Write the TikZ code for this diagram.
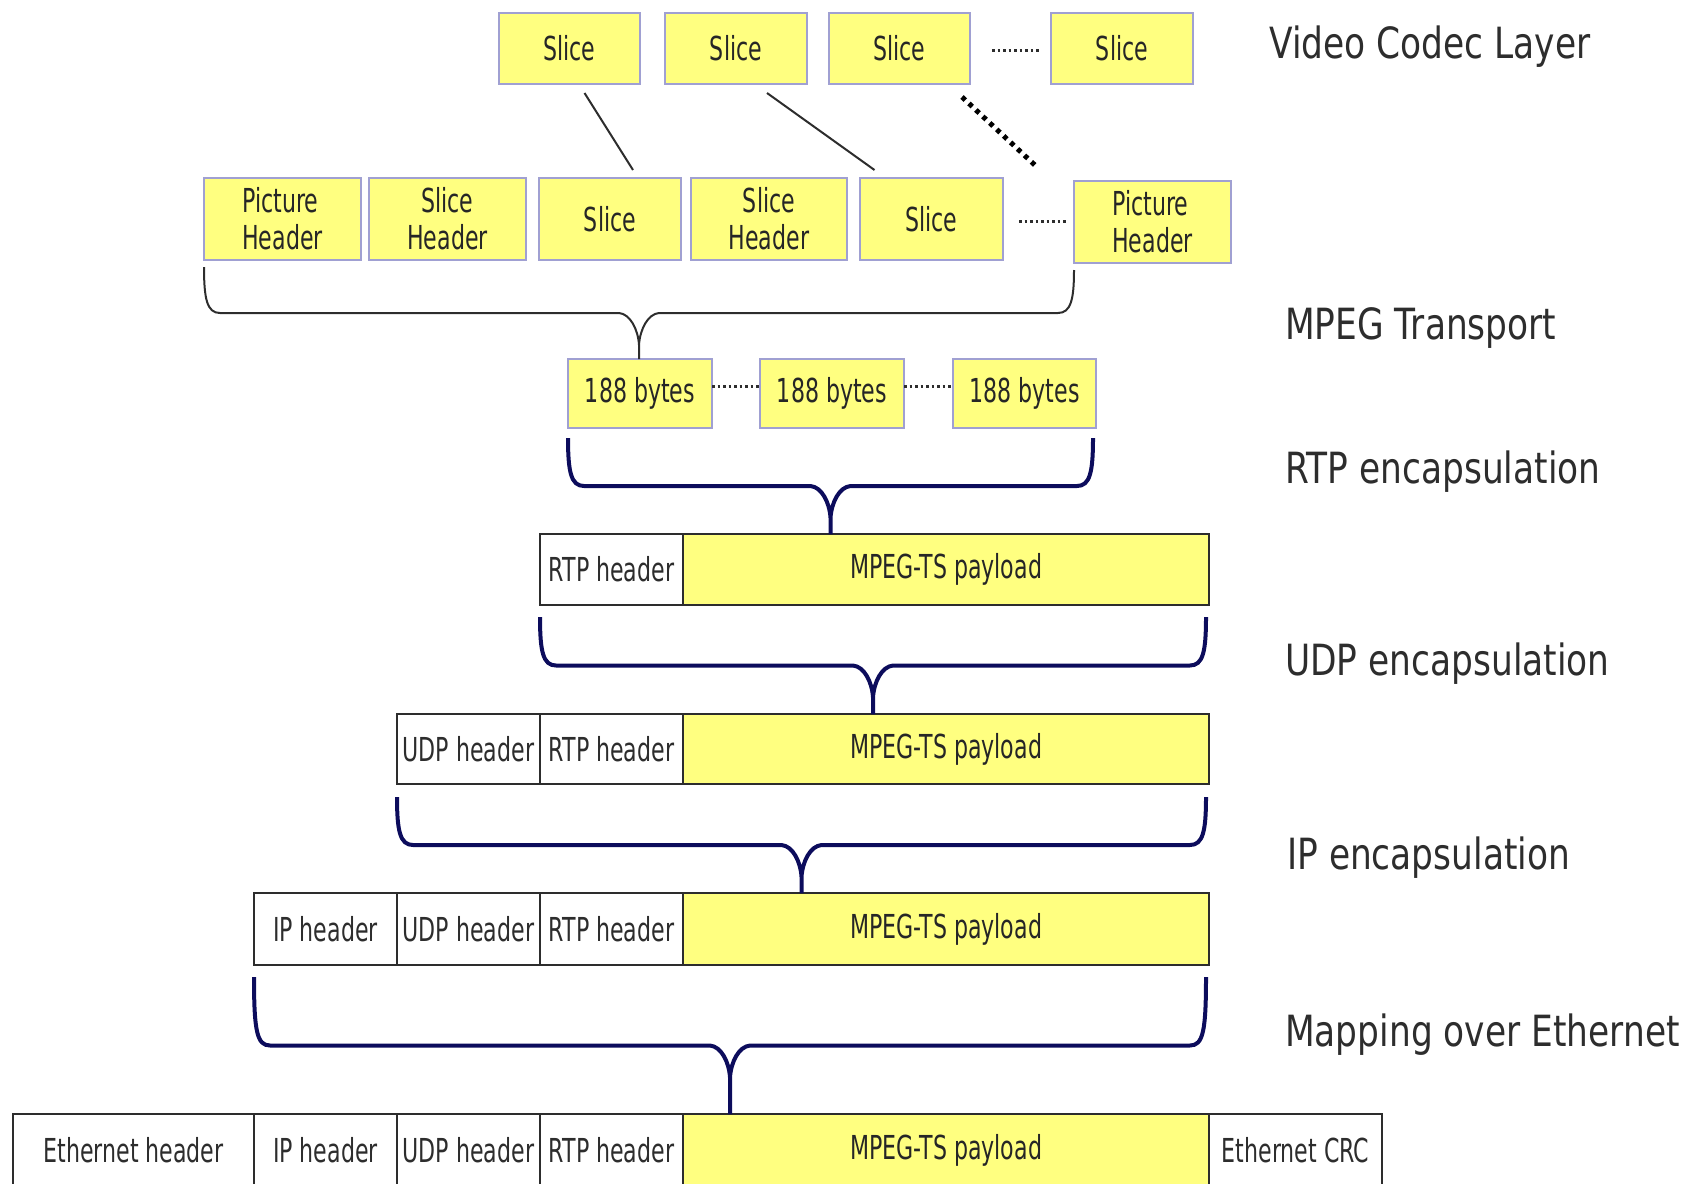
\documentclass[tikz,border=0pt]{standalone}
\usepackage{fontspec}
\newfontfamily\boxfont[FakeStretch=0.67]{DejaVu Sans}
\newfontfamily\layerfont[FakeStretch=0.8]{DejaVu Sans}
\usepackage{tikz}
\usetikzlibrary{positioning,calc}
\definecolor{slicefill}{RGB}{255,255,128}
\definecolor{sliceline}{RGB}{160,160,210}
\definecolor{bracenavy}{RGB}{12,12,92}
\definecolor{textgray}{RGB}{45,45,45}
\newcommand{\encbrace}[4][]{%
  \path (#2) coordinate (bl) (#3) coordinate (br)
        ($(bl)!.5!(br)$) coordinate (bm)
        (bm |- #4.north) coordinate (bt)
        ($(bl)!.5!(bt)$) coordinate (bh);
  \draw[#1] (bl) .. controls ($(bl |- bh)+(0,-14)$) and ($(bl |- bh)+(3,0)$) .. ($(bl |- bh)+(16,0)$)
    -- ($(bt |- bh)+(-20,0)$) .. controls ($(bt |- bh)+(-9,1)$) and ($(bt |- bh)+(-1,16)$) .. ($(bt |- bh)+(0,32)$) -- (bt)
    (br) .. controls ($(br |- bh)+(0,-14)$) and ($(br |- bh)+(-3,0)$) .. ($(br |- bh)+(-16,0)$)
    -- ($(bt |- bh)+(20,0)$) .. controls ($(bt |- bh)+(9,1)$) and ($(bt |- bh)+(1,16)$) .. ($(bt |- bh)+(0,32)$);
}

\begin{document}
\begin{tikzpicture}[x = 1pt, y = -1pt,
  slicebox/.style = {draw = sliceline, line width = 1.5pt, fill = slicefill, minimum height = 71pt,
    inner sep = 0pt, outer sep = 0pt, text = black!85, font = \boxfont\fontsize{33}{37}\selectfont},
  field/.style = {draw = textgray, line width = 1.5pt, minimum height = 71pt, minimum width = 143pt,
    inner sep = 0pt, outer sep = 0pt, text = textgray, font = \boxfont\fontsize{33}{37}\selectfont},
  payload/.style = {field, fill = slicefill, text = black!85, minimum width = 526pt},
  layer/.style = {anchor = west, inner sep = 0pt, text = textgray, font = \layerfont\fontsize{43}{48}\selectfont},
  dotrow/.style = {draw = textgray, line width = 3pt, dash pattern = on 2.5pt off 3pt},
  thinbrace/.style = {draw = textgray, line width = 2pt, line join = round},
  navybrace/.style = {draw = bracenavy, line width = 4pt, line join = round}]
\useasboundingbox (0,0) rectangle (1696,1183);

% video codec layer
\node[slicebox, minimum width = 141pt] (sA) at (569.5,48.5) {Slice};
\node[slicebox, minimum width = 142pt] (sB) at (736,48.5) {Slice};
\node[slicebox, minimum width = 141pt] (sC) at (899.5,48.5) {Slice};
\node[slicebox, minimum width = 142pt] (sD) at (1122,48.5) {Slice};
\draw[dotrow] ([xshift = 22pt, yshift = -2pt]sC.east) -- ([xshift = -11pt, yshift = -2pt]sD.west);

% picture and slice headers
\node[slicebox, minimum width = 157pt, minimum height = 82pt, align = left] (ph1) at (282.5,219) {Picture\\Header};
\node[slicebox, minimum width = 157pt, minimum height = 82pt, align = center] (sh1) at (447.5,219) {Slice\\Header};
\node[slicebox, minimum width = 142pt, minimum height = 82pt] (sl1) at (610,219) {Slice};
\node[slicebox, minimum width = 156pt, minimum height = 82pt, align = center] (sh2) at (769,219) {Slice\\Header};
\node[slicebox, minimum width = 143pt, minimum height = 82pt] (sl2) at (931.5,219) {Slice};
\node[slicebox, minimum width = 157pt, minimum height = 82pt, align = left] (ph2) at (1152.5,222) {Picture\\Header};
\draw[dotrow] ([xshift = 16pt, yshift = -2pt]sl2.east) -- ([xshift = -6pt, yshift = 1pt]ph2.west);

\draw[textgray, line width = 2pt] ([xshift = 15pt, yshift = -9pt]sA.south) -- ([xshift = 23pt, yshift = 8pt]sl1.north);
\draw[textgray, line width = 2pt] ([xshift = 31pt, yshift = -9pt]sB.south) -- ([xshift = -57pt, yshift = 8pt]sl2.north);
\draw[black, line width = 5pt, dash pattern = on 4.5pt off 5pt] ([xshift = -8pt, yshift = -13pt]sC.south east) -- ([xshift = -36pt, yshift = 13pt]ph2.north west);

% MPEG transport packets
\node[slicebox, minimum width = 144pt, minimum height = 69pt] (b1) at (640,393.5) {188 bytes};
\node[slicebox, minimum width = 144pt, minimum height = 69pt] (b2) at (832,393.5) {188 bytes};
\node[slicebox, minimum width = 143pt, minimum height = 69pt] (b3) at (1024.5,393.5) {188 bytes};
\draw[dotrow] ([yshift = 7pt]b1.east) -- ([yshift = 7pt]b2.west);
\draw[dotrow] ([yshift = 7pt]b2.east) -- ([yshift = 7pt]b3.west);

% RTP
\node[field, anchor = west] (rtpA) at (540,569.5) {RTP header};
\node[payload, right = 0pt of rtpA] (payA) {MPEG-TS payload};

% UDP
\node[field, anchor = west, minimum height = 70pt] (rtpB) at (540,749) {RTP header};
\node[payload, minimum height = 70pt, right = 0pt of rtpB] (payB) {MPEG-TS payload};
\node[field, minimum height = 70pt, left = 0pt of rtpB] (udpB) {UDP header};

% IP
\node[field, anchor = west, minimum height = 72pt] (rtpC) at (540,929) {RTP header};
\node[payload, minimum height = 72pt, right = 0pt of rtpC] (payC) {MPEG-TS payload};
\node[field, minimum height = 72pt, left = 0pt of rtpC] (udpC) {UDP header};
\node[field, minimum height = 72pt, left = 0pt of udpC] (ipC) {IP header};

% Ethernet
\node[field, anchor = west, minimum height = 72pt] (rtpD) at (540,1150) {RTP header};
\node[payload, minimum height = 72pt, right = 0pt of rtpD] (payD) {MPEG-TS payload};
\node[field, minimum height = 72pt, left = 0pt of rtpD] (udpD) {UDP header};
\node[field, minimum height = 72pt, left = 0pt of udpD] (ipD) {IP header};
\node[field, minimum height = 72pt, minimum width = 241pt, left = 0pt of ipD] (ethD) {Ethernet header};
\node[field, minimum height = 72pt, minimum width = 173pt, right = 0pt of payD] (crcD) {Ethernet CRC};

% braces
\encbrace[thinbrace]{[yshift = -7pt]ph1.south west}{[yshift = -7pt]ph2.south west}{b1}
\encbrace[navybrace]{[yshift = -10pt]b1.south west}{[xshift = -3pt, yshift = -10pt]b3.south east}{rtpA}
\encbrace[navybrace]{[yshift = -12pt]rtpA.south west}{[xshift = -3pt, yshift = -12pt]payA.south east}{udpB}
\encbrace[navybrace]{[yshift = -13pt]udpB.south west}{[xshift = -3pt, yshift = -13pt]payB.south east}{ipC}
\encbrace[navybrace]{[yshift = -12pt]ipC.south west}{[xshift = -3pt, yshift = -12pt]payC.south east}{ethD}

% layer names
\node[layer] (lvcl) at (1269,47) {Video Codec Layer};
\node[layer] (lmpeg) at (1285,328) {MPEG Transport};
\node[layer] (lrtp) at (1285,472) {RTP encapsulation};
\node[layer] (ludp) at (1285,664) {UDP encapsulation};
\node[layer] (lip) at (1287,858) {IP encapsulation};
\node[layer] (leth) at (1285,1035) {Mapping over Ethernet};
\end{tikzpicture}
\end{document}
